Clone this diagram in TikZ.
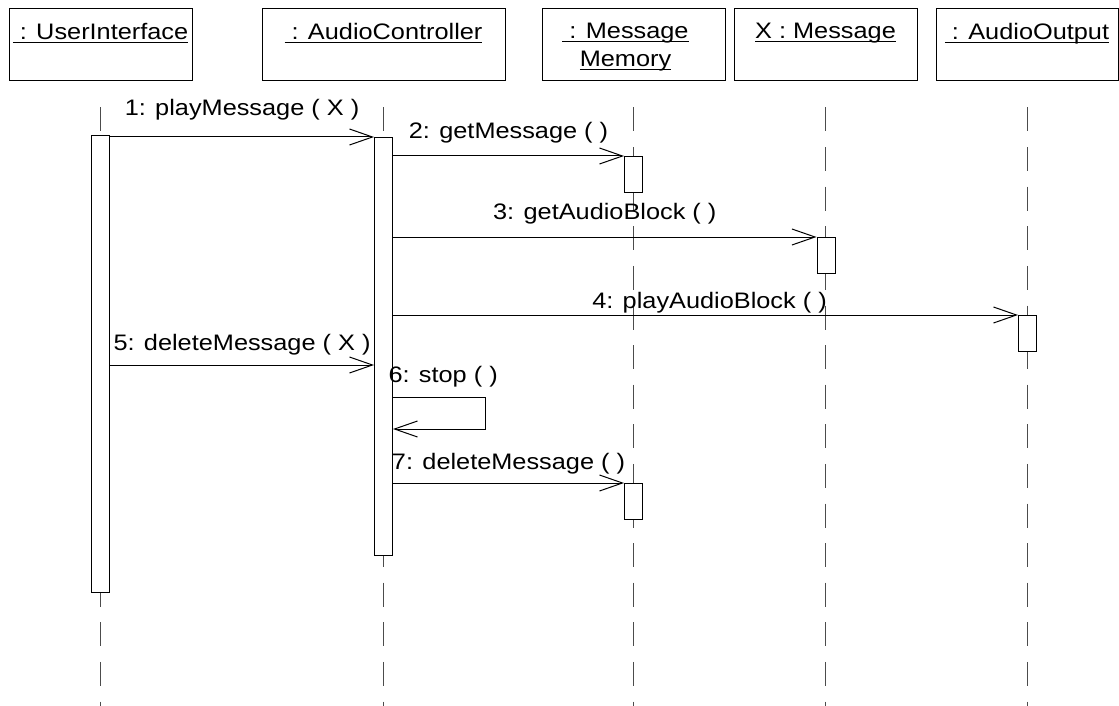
\documentclass[tikz,border=0pt]{standalone}
\usepackage{fontspec}
\setmainfont{Liberation Sans}[FakeStretch=1.13]
\usepackage{amsmath}
\usetikzlibrary{arrows.meta,positioning}
\newcommand{\objul}[1]{\underline{\smash[b]{#1}}}

\tikzset{
  obj/.style={draw,line width=0.5pt,minimum height=36pt,inner sep=0pt},
  objname/.style={inner sep=0pt,align=center},
  life/.style={draw=black!70,line width=0.5pt,dash pattern=on 12pt off 7.8pt},
  act/.style={draw,fill=white,line width=0.5pt,minimum width=9pt,inner sep=0pt,anchor=north},
  msg/.style={line width=0.5pt,-{Straight Barb[length=11.5pt,width=8pt]}},
  lbl/.style={midway,anchor=base,inner sep=0pt,yshift=8.5pt}
}

\begin{document}
\begin{tikzpicture}[x=0.5pt,y=-0.5pt,font=\fontsize{11.2}{14}\selectfont]
\useasboundingbox (0,0) rectangle (1119,706);

\node[obj,minimum width=91.5pt] (ui) at (100.5,45) {};
\node[obj,minimum width=121.5pt] (ac) at (383.5,45) {};
\node[obj,minimum width=91.5pt] (mm) at (633.5,45) {};
\node[obj,minimum width=91.5pt] (xm) at (825.5,45) {};
\node[obj,minimum width=91pt] (ao) at (1027,45) {};

\node[objname,below=7pt of ui.north] (uiname) {\objul{\ : UserInterface}};
\node[objname,below=7pt of ac.north] (acname) {\objul{\ : AudioController}};
\node[objname,below=7pt of mm.north,xshift=-4pt] (mmname) {\objul{\ : Message}\\\objul{Memory}};
\node[objname,below=7pt of xm.north] (xmname) {\objul{X : Message}};
\node[objname,below=7pt of ao.north] (aoname) {\objul{\ : AudioOutput}};

\draw[life] ([yshift=-13pt]ui.south) -- (ui |- 0,706);
\draw[life] ([yshift=-13pt]ac.south) -- (ac |- 0,706);
\draw[life] ([yshift=-13pt]mm.south) -- (mm |- 0,706);
\draw[life] ([yshift=-13pt]xm.south) -- (xm |- 0,706);
\draw[life] ([yshift=-13pt]ao.south) -- (ao |- 0,706);

\node[act,minimum height=228.5pt] (uia) at (100.5,135) {};
\node[act,minimum height=209pt] (aca) at (383.5,137) {};
\node[act,minimum height=18pt] (mma) at (633.5,156) {};
\node[act,minimum height=18pt] (xma) at (826,237) {};
\node[act,minimum height=18pt] (aoa) at (1027.5,315) {};
\node[act,minimum height=18pt] (mmb) at (633.5,483) {};

\draw[msg] (uia.east |- aca.north) -- (aca.north west)
  node[lbl,yshift=2pt] {1: playMessage ( X )};
\draw[msg] (aca.east |- mma.north) -- (mma.north west)
  node[lbl] {2: getMessage ( )};
\draw[msg] (aca.east |- xma.north) -- (xma.north west)
  node[lbl,yshift=0.5pt] {3: getAudioBlock ( )};
\draw[msg] (aca.east |- aoa.north) -- (aoa.north west)
  node[lbl,yshift=-5pt,xshift=2pt] {4: playAudioBlock ( )};
\draw[msg] (uia.east |- 0,365) -- (aca.west |- 0,365)
  node[lbl,yshift=-1pt] {5: deleteMessage ( X )};
\draw[msg] (aca.east |- 0,397)
  node[anchor=base west,inner sep=0pt,xshift=-2.5pt,yshift=7.5pt] (stop) {6: stop ( )}
  -- ++(92,0) -- ++(0,32) -- (aca.east |- 0,429);
\draw[msg] (aca.east |- mmb.north) -- (mmb.north west)
  node[lbl,yshift=-1.5pt] {7: deleteMessage ( )};
\end{tikzpicture}
\end{document}
